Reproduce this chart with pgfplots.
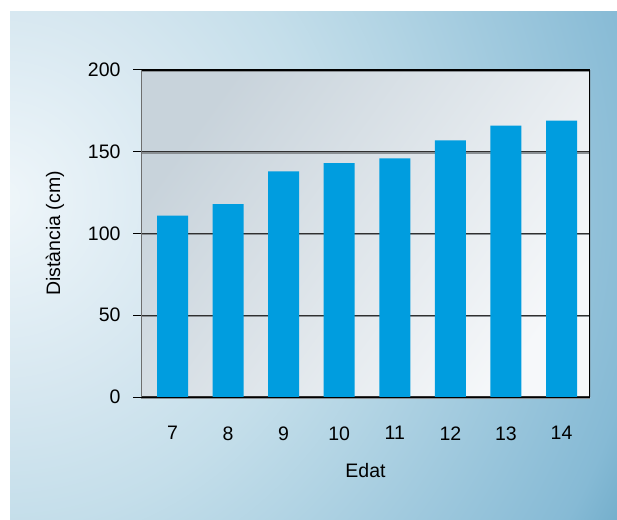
\documentclass[border=0pt]{standalone}
\usepackage{pgfplots}
\pgfplotsset{compat=1.18}
\usepackage{fontspec}
\setmainfont{Liberation Sans}

\definecolor{barblue}{HTML}{009DDF}
\definecolor{glowA}{HTML}{EFF6FA}
\definecolor{glowB}{HTML}{D6E7F0}
\definecolor{glowC}{HTML}{C4DEEA}
\definecolor{glowD}{HTML}{B2D4E4}
\definecolor{glowE}{HTML}{86BAD5}
\definecolor{glowF}{HTML}{73AECB}
\definecolor{plotdark}{HTML}{C8D3DB}
\definecolor{plotlight}{HTML}{F6F8FA}
\definecolor{gridcol}{HTML}{303030}
\definecolor{gridshadow}{HTML}{8A8F93}
\definecolor{leftaxis}{HTML}{6E6E6E}

% radial glow of the panel; 1bp of the shading = 28.8pt on the page
\pgfdeclareradialshading{panelglow}{\pgfpoint{0bp}{0bp}}{%
  color(0bp)=(glowA); color(6.9bp)=(glowB); color(11.3bp)=(glowC);
  color(14.7bp)=(glowD); color(22.6bp)=(glowE); color(24.3bp)=(glowF);
  color(50bp)=(glowF)}

\begin{document}
\begin{tikzpicture}
\useasboundingbox (0pt,0pt) rectangle (617pt,519pt);
\fill[white] (0pt,0pt) rectangle (617pt,519pt);
\begin{scope}
  \clip (10pt,0pt) rectangle (617pt,507pt);
  \shade[shading=panelglow] (-720pt,-400pt) rectangle (720pt,1040pt);
\end{scope}

\begin{axis}[
  at={(141pt,122pt)}, anchor=south west,
  width=449pt, height=327pt, scale only axis,
  font=\fontsize{19.5}{22}\selectfont,
  /pgf/number format/assume math mode=true,
  axis background/.style={shade, left color=plotdark, right color=plotlight,
                          shading angle=54},
  axis line style={draw=none},
  ybar, bar width=31pt, bar shift=0pt,
  xmin=-0.567, xmax=7.513,
  ymin=0, ymax=200,
  xtick=data,
  xticklabels={7,8,9,10,11,12,13,14},
  xtick style={draw=none},
  xticklabel style={yshift=-18pt},
  ytick={0,50,100,150,200},
  ytick pos=left,
  tick align=outside,
  major tick length=8pt,
  y tick style={black, line width=1pt},
  yticklabel style={xshift=-9pt},
  ymajorgrids,
  major grid style={gridcol, line width=1.3pt,
    preaction={draw=gridshadow, line width=1.3pt, transform canvas={yshift=-1.3pt}}},
  xlabel={Edat},
  xlabel style={at={(axis description cs:0.5,0)}, anchor=base, yshift=-80pt},
  ylabel={Distància (cm)},
  ylabel style={at={(axis description cs:0,0.5)}, anchor=center, yshift=86pt},
]
\addplot[fill=barblue, draw=none] coordinates {
  (0,111) (1,118) (2,138) (3,143) (4,146) (5,157) (6,166) (7,169)
};
% frame of the plot area
\draw[black, line width=1pt] (rel axis cs:0,0) -- (rel axis cs:1,0);
\draw[black, line width=2pt] (rel axis cs:0,1) -- (rel axis cs:1,1);
\draw[black, line width=2pt] (rel axis cs:1,0) -- (rel axis cs:1,1);
\draw[leftaxis, line width=2pt] (rel axis cs:0,0) -- (rel axis cs:0,1);
\end{axis}
\end{tikzpicture}
\end{document}
